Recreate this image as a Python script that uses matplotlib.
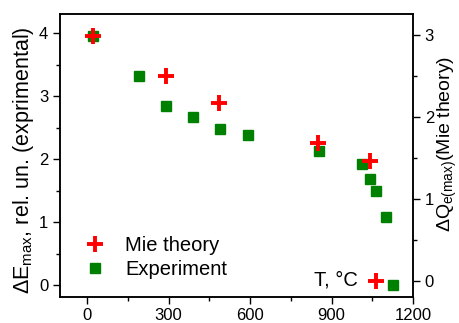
import matplotlib
matplotlib.use("Agg")
import matplotlib.pyplot as plt
from matplotlib.ticker import MultipleLocator

plt.rcParams['font.family'] = ['Liberation Sans', 'DejaVu Sans']
plt.rcParams['mathtext.fontset'] = 'custom'
plt.rcParams['mathtext.rm'] = 'Liberation Sans'
plt.rcParams['mathtext.it'] = 'Liberation Sans'

# Mie theory (right axis)
mie_T = [20, 291, 487, 851, 1043, 1064]
mie_Q = [2.98, 2.49, 2.17, 1.68, 1.46, 0.0]

# Experiment (left axis)
exp_T = [22, 192, 291, 390, 490, 591, 852, 1012, 1042, 1063, 1101, 1125]
exp_E = [3.96, 3.32, 2.85, 2.67, 2.48, 2.38, 2.13, 1.92, 1.69, 1.49, 1.08, 0.0]

W, H = 460, 323
fig = plt.figure(figsize=(W/100, H/100), dpi=100)
ax = fig.add_axes([60/W, 1-297/H, (413-60)/W, (297-14)/H])
ax2 = ax.twinx()

h2, = ax.plot(exp_T, exp_E, 's', color='#008000', ms=6.5, mec='#008000', label='Experiment', zorder=3)
h1, = ax2.plot(mie_T, mie_Q, '+', color='#ff0000', ms=11, mew=2.8, label='Mie theory', zorder=4)

ax.set_xlim(-100, 1200)
ax.set_ylim(-0.19, 4.31)
ax2.set_ylim(-0.2, 3.25)

ax.xaxis.set_major_locator(MultipleLocator(300))
ax.xaxis.set_minor_locator(MultipleLocator(150))
ax.yaxis.set_major_locator(MultipleLocator(1))
ax.yaxis.set_minor_locator(MultipleLocator(0.5))
ax2.yaxis.set_major_locator(MultipleLocator(1))
ax2.yaxis.set_minor_locator(MultipleLocator(0.5))

for a in (ax, ax2):
    a.tick_params(which='major', direction='out', length=5, width=1, labelsize=12)
    a.tick_params(which='minor', direction='out', length=3, width=1)
    for s in a.spines.values():
        s.set_linewidth(1.1)
ax.tick_params(axis='x', pad=3)

fig.text(24/W, 1-160/H, r'$\Delta$E$_{\mathrm{max}}$, rel. un. (exprimental)', fontsize=15.5,
         rotation=90, ha='center', va='center')
fig.text(447/W, 1-144/H, r'$\Delta$Q$_{\mathrm{e(max)}}$(Mie theory)', fontsize=14,
         rotation=90, ha='center', va='center')

ax.text(0.844, 0.06, 'T, °C', transform=ax.transAxes, fontsize=14.5, ha='right', va='center')

ax.legend([h1, h2], ['Mie theory', 'Experiment'], loc='lower left', frameon=False,
          fontsize=14.5, bbox_to_anchor=(0.071, 0.064), handletextpad=1.0, handlelength=1.0,
          borderaxespad=0, borderpad=0, labelspacing=0.25)

fig.savefig('out.png', dpi=100)
